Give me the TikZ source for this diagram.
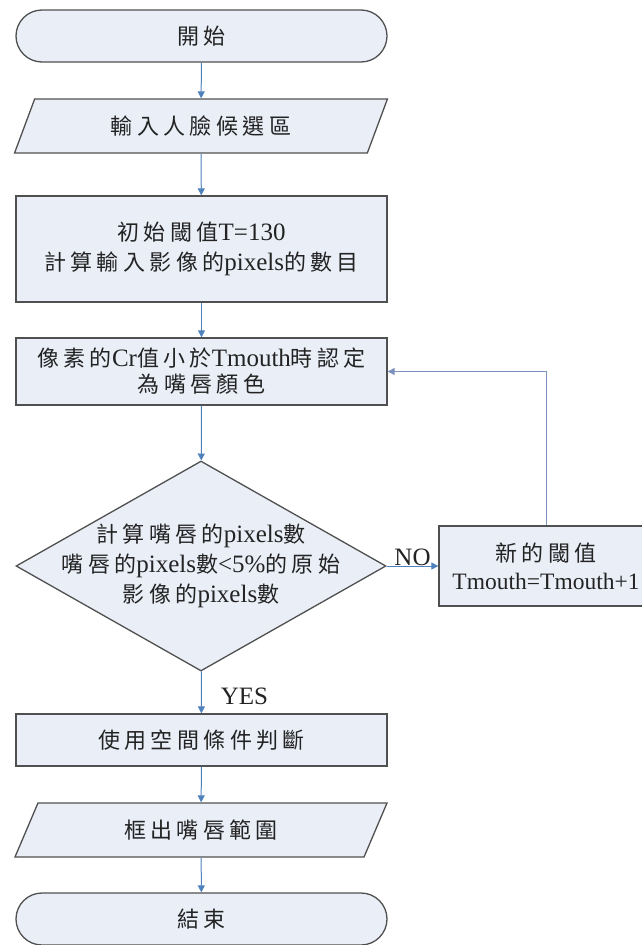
\documentclass[tikz,border=0pt]{standalone}
\usepackage{fontspec}
\setmainfont{Liberation Serif}
\newfontfamily\cjk[LetterSpace=20]{Noto Sans CJK TC}
\newcommand\zh[1]{{\cjk\fontsize{22}{30}\selectfont #1}}
\usetikzlibrary{shapes.geometric, arrows.meta}
\definecolor{boxfill}{RGB}{233,238,247}
\definecolor{boxline}{RGB}{80,80,80}
\definecolor{flowblue}{RGB}{79,129,189}
\definecolor{backline}{RGB}{125,145,190}
\definecolor{inkgray}{RGB}{35,35,35}
\tikzset{
  shape base/.style={draw=boxline, line width=1.3pt, fill=boxfill, text=inkgray, align=center, inner sep=0pt},
  term/.style={shape base, rectangle, rounded corners=26pt, minimum width=371pt, minimum height=52pt},
  io/.style={shape base, trapezium, trapezium left angle=62, trapezium right angle=118, trapezium stretches=true, minimum width=373pt, minimum height=54pt},
  proc/.style={shape base, rectangle, minimum width=371pt},
  decision/.style={shape base, diamond, minimum width=370pt, minimum height=210pt},
  flow/.style={draw=flowblue, line width=1pt, -{Triangle[width=7pt,length=7pt]}}
}

\begin{document}
\begin{tikzpicture}[x=1pt, y=-1pt, font=\fontsize{25}{30}\selectfont]
\useasboundingbox (0,0) rectangle (642,945);
\clip (0,0) rectangle (642,945);

\node (start) at (201.5,36) [term] {\zh{開始}};
\node (input) at (201,126) [io] {\zh{輸入人臉候選區}};
\node (init) at (201.5,249) [proc, minimum height=106pt] {\zh{初始閾值}T=130\\\zh{計算輸入影像的}pixels\zh{的數目}};
\node (mark) at (201.5,371.5) [proc, minimum height=67pt] {\zh{像素的}Cr\zh{值小於}Tmouth\zh{時認定}\\[-4pt]\zh{為嘴唇顏色}};
\node (check) at (201,566) [decision] {};
\node (checktext) at (check) [text=inkgray, align=center] {\zh{計算嘴唇的}pixels\zh{數}\\\zh{嘴唇的}pixels\zh{數}<5\%\zh{的原始}\\\zh{影像的}pixels\zh{數}};
\node (update) at (546,566) [proc, minimum width=214pt, minimum height=80pt, font=\fontsize{23.5}{30}\selectfont] {\zh{新的閾值}\\[-2pt]Tmouth=Tmouth+1};
\node (space) at (201.5,740) [proc, minimum height=52pt] {\zh{使用空間條件判斷}};
\node (output) at (201,830) [io] {\zh{框出嘴唇範圍}};
\node (finish) at (201.5,919) [term] {\zh{結束}};

\draw[flow] (start) -- (input);
\draw[flow] (input) -- (init);
\draw[flow] (init) -- (mark);
\draw[flow] (mark) -- (check);
\draw[flow] (check) -- node[above, inner sep=0pt, text=inkgray] {NO} (update);
\draw[flow] (check) -- node[pos=0.6, anchor=west, xshift=19pt, inner sep=0pt, text=inkgray] {YES} (space);
\draw[flow] (space) -- (output);
\draw[flow] (output) -- (finish);
\draw[flow, draw=backline] (update.north) |- (mark.east);
\end{tikzpicture}
\end{document}
